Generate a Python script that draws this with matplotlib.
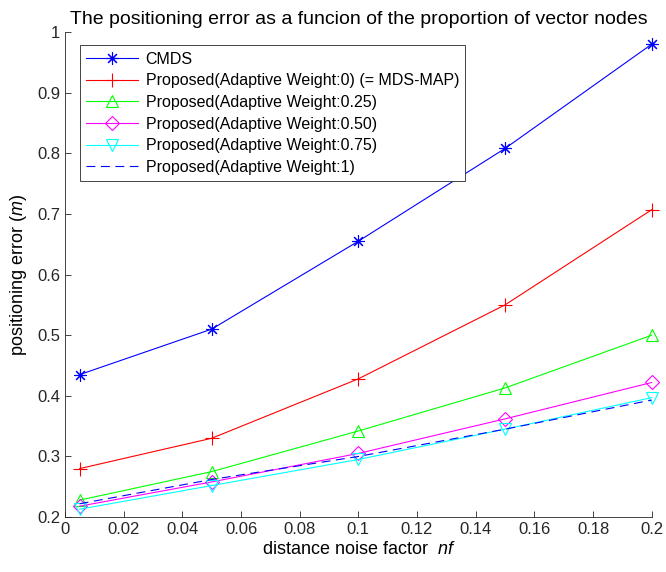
import matplotlib
matplotlib.use('Agg')
import matplotlib.pyplot as plt

plt.rcParams['font.family'] = ['Liberation Sans', 'DejaVu Sans']
plt.rcParams['mathtext.fontset'] = 'custom'
plt.rcParams['mathtext.it'] = 'Liberation Sans:italic'
plt.rcParams['mathtext.rm'] = 'Liberation Sans'

## data ##

nf = [0.005, 0.05, 0.1, 0.15, 0.2]
cmds = [0.435, 0.510, 0.655, 0.808, 0.980]
w0 = [0.280, 0.330, 0.428, 0.550, 0.707]
w025 = [0.228, 0.275, 0.342, 0.413, 0.500]
w050 = [0.218, 0.258, 0.305, 0.362, 0.422]
w075 = [0.213, 0.252, 0.295, 0.345, 0.397]
w1 = [0.222, 0.262, 0.300, 0.345, 0.393]

labels = ['CMDS',
          'Proposed(Adaptive Weight:0) (= MDS-MAP)',
          'Proposed(Adaptive Weight:0.25)',
          'Proposed(Adaptive Weight:0.50)',
          'Proposed(Adaptive Weight:0.75)',
          'Proposed(Adaptive Weight:1)']

xticks = [0, 0.02, 0.04, 0.06, 0.08, 0.1, 0.12, 0.14, 0.16, 0.18, 0.2]
xticklabels = ['0', '0.02', '0.04', '0.06', '0.08', '0.1', '0.12', '0.14', '0.16', '0.18', '0.2']
yticks = [0.2, 0.3, 0.4, 0.5, 0.6, 0.7, 0.8, 0.9, 1.0]
yticklabels = ['0.2', '0.3', '0.4', '0.5', '0.6', '0.7', '0.8', '0.9', '1']

## plot ##

fig = plt.figure(figsize=(6.66, 5.72), dpi=100)
ax = fig.add_axes([0.0976, 0.096, 0.881, 0.848])

lw = 0.8
common = dict(lw=lw, mew=0.8, clip_on=False)
ax.plot(nf, cmds, color='#0000ff', marker=(8, 2, 0), ms=9, label=labels[0], **common)
ax.plot(nf, w0, color='#ff0000', marker='+', ms=10, label=labels[1], **common)
ax.plot(nf, w025, color='#00ff00', marker='^', ms=9, mfc='none', label=labels[2], **common)
ax.plot(nf, w050, color='#ff00ff', marker='D', ms=7, mfc='none', label=labels[3], **common)
ax.plot(nf, w075, color='#00ffff', marker='v', ms=9, mfc='none', label=labels[4], **common)
ax.plot(nf, w1, color='#0000ff', ls=(0, (8, 5)), lw=lw, label=labels[5])

ax.set_xlim(0, 0.2)
ax.set_ylim(0.2, 1.0)
ax.set_xticks(xticks)
ax.set_xticklabels(xticklabels)
ax.set_yticks(yticks)
ax.set_yticklabels(yticklabels)
ax.tick_params(direction='in', length=4, width=0.6, labelsize=12, colors='#262626')
ax.spines['top'].set_visible(False)
ax.spines['right'].set_visible(False)
for s in ['left', 'bottom']:
    ax.spines[s].set_linewidth(0.6)
    ax.spines[s].set_color('#262626')

ax.set_xlabel('distance noise factor  $nf$', fontsize=13, labelpad=3)
ax.set_ylabel('positioning error ($m$)', fontsize=13, labelpad=6)
ax.set_title('The positioning error as a funcion of the proportion of vector nodes', fontsize=14, pad=6)

leg = ax.legend(loc='upper left', bbox_to_anchor=(0.0256, 0.973), borderaxespad=0, fontsize=11.5,
                fancybox=False, edgecolor='#262626', framealpha=1,
                handlelength=3.2, labelspacing=0.42, borderpad=0.4, handletextpad=0.5)
leg.get_frame().set_linewidth(0.6)

fig.savefig('out.png', dpi=100)
